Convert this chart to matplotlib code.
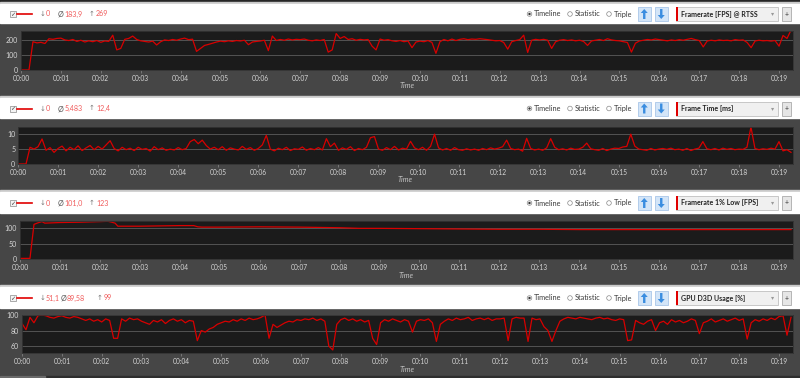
import matplotlib
matplotlib.use("Agg")
import matplotlib.pyplot as plt
import numpy as np
from matplotlib.patches import Rectangle, Circle, Polygon

plt.rcParams['font.family'] = ['Lato', 'DejaVu Sans']

# ---------------- data ----------------
step = 0.1  # minutes per sample
fps = [0, 0, 0, 190, 182, 186, 178, 210, 206, 212,
       214, 202, 198, 205, 192, 200, 188, 196, 190, 198,
       186, 195, 192, 234, 135, 145, 206, 212, 228, 205,
       196, 192, 188, 194, 168, 190, 202, 198, 205, 200,
       208, 214, 204, 207, 125, 145, 165, 172, 180, 188,
       194, 190, 196, 192, 198, 195, 200, 170, 188, 192,
       195, 200, 130, 228, 198, 205, 200, 208, 202, 206,
       204, 208, 200, 196, 202, 198, 205, 120, 135, 245,
       212, 225, 205, 210, 200, 206, 202, 205, 160, 135,
       208, 200, 204, 196, 192, 198, 190, 195, 150, 188,
       194, 190, 198, 185, 112, 190, 205, 196, 208, 198,
       206, 210, 204, 208, 206, 210, 207, 204, 200, 196,
       198, 185, 140, 190, 198, 204, 234, 118, 200, 206,
       202, 206, 200, 145, 190, 200, 204, 198, 202, 196,
       200, 192, 165, 195, 200, 205, 198, 210, 202, 198,
       196, 190, 185, 120, 180, 195, 200, 205, 202, 208,
       204, 200, 196, 202, 198, 204, 200, 206, 212, 204,
       198, 155, 195, 200, 196, 202, 198, 200, 196, 204,
       200, 202, 185, 150, 195, 200, 196, 198, 194, 198,
       160, 232, 212, 268]

frametime = [0, 0, 0, 5.6, 5.0, 5.8, 8.4, 4.6, 5.5, 3.9,
             5.2, 6.0, 4.4, 5.6, 4.8, 6.1, 4.5, 5.4, 6.2, 4.8,
             5.9, 5.0, 6.4, 7.8, 5.2, 4.4, 5.6, 4.8, 5.3, 4.5,
             5.6, 4.9, 5.2, 4.3, 5.8, 4.8, 5.4, 4.6, 5.0, 4.7,
             5.5, 4.8, 5.2, 7.5, 8.2, 6.8, 8.0, 6.2, 5.0, 5.6,
             4.8, 5.8, 4.6, 5.4, 5.0, 4.7, 5.9, 4.9, 5.5, 4.6,
             5.2, 6.4, 9.6, 5.0, 4.4, 5.3, 4.8, 5.6, 4.5, 5.1,
             4.9, 5.7, 4.6, 5.2, 4.8, 5.5, 4.7, 8.5, 5.8, 7.0,
             4.6, 5.4, 4.9, 5.8, 4.5, 5.2, 4.8, 5.6, 8.8, 9.2,
             5.0, 4.6, 5.5, 4.8, 5.9, 4.7, 5.3, 5.0, 7.6, 5.4,
             4.8, 5.6, 4.6, 5.9, 10.0, 5.4, 4.7, 5.2, 4.6, 5.5,
             4.8, 4.6, 5.1, 4.7, 5.0, 4.6, 5.2, 4.8, 5.4, 5.0,
             5.3, 5.8, 8.0, 5.2, 4.8, 5.0, 4.3, 8.6, 5.2, 4.7,
             5.0, 4.6, 5.4, 8.5, 5.6, 4.8, 5.1, 4.7, 5.3, 4.9,
             5.0, 5.6, 7.0, 5.1, 4.8, 4.6, 5.2, 4.5, 5.0, 5.3,
             5.2, 5.7, 5.9, 10.0, 6.0, 5.0, 4.8, 4.6, 5.2, 4.7,
             5.0, 5.2, 4.9, 5.3, 4.8, 5.0, 4.6, 5.2, 4.5, 5.0,
             5.3, 7.5, 5.1, 4.8, 5.2, 4.7, 5.3, 4.9, 5.2, 4.8,
             5.0, 4.9, 5.6, 12.4, 5.2, 4.8, 5.1, 4.9, 5.3, 5.0,
             7.5, 4.4, 4.8, 3.9]

low_t = [0.0, 0.25, 0.35, 0.45, 0.55, 0.62, 1.0, 1.5, 2.0, 2.2,
         2.3, 2.38, 2.45, 3.0, 3.5, 4.0, 4.35, 4.45, 4.55, 5.0,
         6.0, 7.0, 8.0, 8.5, 9.0, 10.0, 11.0, 12.0, 13.0, 14.0,
         15.0, 16.0, 17.0, 18.0, 19.0, 19.3]
low = [2, 2, 113, 118, 122, 117, 119, 120, 122, 123,
       120, 117, 107, 107, 108, 109, 109, 105, 104, 104,
       105, 104, 102, 100, 100, 99, 98, 97, 97, 96,
       96, 96, 96, 96, 96, 96]

gpu = [89, 81, 97, 90, 99, 100, 99, 97, 96, 98,
       99, 97, 96, 98, 97, 95, 93, 95, 92, 94,
       91, 95, 93, 70, 70, 95, 92, 96, 94, 95,
       92, 90, 88, 93, 91, 94, 89, 93, 95, 92,
       94, 90, 93, 92, 67, 80, 78, 82, 84, 88,
       90, 92, 91, 94, 92, 95, 93, 96, 94, 95,
       97, 100, 70, 88, 84, 87, 90, 92, 91, 94,
       93, 95, 94, 96, 93, 95, 92, 60, 55, 88,
       94, 96, 93, 95, 92, 94, 91, 93, 70, 62,
       90, 94, 92, 95, 93, 91, 94, 92, 78, 92,
       94, 93, 95, 90, 66, 88, 92, 95, 93, 96,
       94, 95, 97, 93, 95, 96, 94, 96, 93, 95,
       95, 96, 67, 95, 97, 96, 96, 66, 96, 94,
       95, 85, 80, 66, 80, 92, 95, 97, 96, 95,
       97, 96, 95, 94, 96, 97, 95, 96, 94, 93,
       95, 94, 67, 68, 93, 90, 88, 92, 94, 80,
       90, 92, 88, 94, 91, 93, 90, 92, 95, 93,
       76, 90, 92, 95, 91, 93, 95, 92, 94, 96,
       93, 95, 69, 90, 94, 92, 95, 93, 96, 94,
       98, 99, 74, 97]

xlabels = ['00:%02d' % m for m in range(20)]

panels = [
    dict(values=fps, t=None, ylim=(0, 262), yticks=[0, 100, 200],
         stats=('0', '183,9', '269'), title='Framerate [FPS] @ RTSS',
         hdr=(4, 23), plot=(21, 31, 70), sx=(43, 60.5, 92)),
    dict(values=frametime, t=None, ylim=(0, 12.4), yticks=[0, 5, 10],
         stats=('0', '5,483', '12,4'), title='Frame Time [ms]',
         hdr=(98, 118), plot=(18, 127, 164), sx=(43, 61, 92)),
    dict(values=low, t=low_t, ylim=(0, 124), yticks=[0, 50, 100],
         stats=('0', '101,0', '123'), title='Framerate 1% Low [FPS]',
         hdr=(192, 213), plot=(20, 221, 259), sx=(43, 61, 92)),
    dict(values=gpu, t=None, ylim=(51.1, 100), yticks=[60, 80, 100],
         stats=('51,1', '89,58', '99'), title='GPU D3D Usage [%]',
         hdr=(287, 308), plot=(22, 315, 353), sx=(43, 63.5, 100)),
]

W, H = 800, 378
RIGHT = 793
fig = plt.figure(figsize=(8, 3.78), dpi=100, facecolor='#464646')
bg = fig.add_axes([0, 0, 1, 1])
bg.set_xlim(0, W)
bg.set_ylim(H, 0)
bg.axis('off')
bg.set_zorder(0)

bg.add_patch(Rectangle((0, 0), W, 3, color='#262626'))
bg.add_patch(Rectangle((0, 375.5), W, 2.5, color='#2e2e2e'))
bg.add_patch(Rectangle((0, 375.5), 45, 2.5, color='#6a6a6a'))

TXT = '#3a3a3a'
SAL = '#f05a5a'

for p in panels:
    y0, y1 = p['hdr']
    yc = (y0 + y1) / 2 + 0.5
    bg.add_patch(Rectangle((0, y0 - 2), W, 2, color='#c9c9c9'))
    bg.add_patch(Rectangle((0, y0), W, y1 - y0, color='white'))
    # checkbox
    bg.add_patch(Rectangle((9.5, yc - 3), 6, 6, fc='#f4f4f4', ec='#8a8a8a', lw=0.5))
    bg.text(12.5, yc + 0.2, '✓', fontsize=4.5, color='#444', ha='center', va='center',
            family='DejaVu Sans')
    bg.plot([17, 32], [yc, yc], color='#e00000', lw=1.2)
    lo, avg, hi = p['stats']
    xa, xb, xc = p['sx']
    bg.text(xa, yc, '↓', fontsize=5, color='#777', ha='center', va='center', family='DejaVu Sans')
    bg.text(xa + 3, yc, lo, fontsize=5.1, color=SAL, ha='left', va='center')
    bg.text(xb, yc, 'Ø', fontsize=5.2, color='#555', ha='center', va='center')
    bg.text(xb + 3.5, yc, avg, fontsize=5.1, color=SAL, ha='left', va='center')
    bg.text(xc, yc, '↑', fontsize=5, color='#777', ha='center', va='center', family='DejaVu Sans')
    bg.text(xc + 4, yc, hi, fontsize=5.1, color=SAL, ha='left', va='center')
    # radio buttons
    for cx, label, sel in [(529.5, 'Timeline', True), (570, 'Statistic', False), (609, 'Triple', False)]:
        bg.add_patch(Circle((cx, yc), 2.3, fc='white', ec='#8a8a8a', lw=0.5))
        if sel:
            bg.add_patch(Circle((cx, yc), 1.2, fc='#333333', ec='none'))
        bg.text(cx + 4.5, yc, label, fontsize=5.3, color=TXT, ha='left', va='center')
    # up / down buttons
    for bx, up in [(638, True), (655, False)]:
        bg.add_patch(Rectangle((bx, yc - 7), 12.5, 14, fc='#d3e5f8', ec='#a9c6e8', lw=0.6))
        cx = bx + 6.25
        s = -1 if up else 1
        pts = [(cx, yc + s * 5), (cx + 3.5, yc + s * 1), (cx + 1.2, yc + s * 1),
               (cx + 1.2, yc - s * 5), (cx - 1.2, yc - s * 5), (cx - 1.2, yc + s * 1),
               (cx - 3.5, yc + s * 1)]
        bg.add_patch(Polygon(pts, closed=True, fc='#3a8de0', ec='none'))
    # dropdown
    bg.add_patch(Rectangle((676, yc - 7), 102, 14, fc='#f0f0f0', ec='#c0c0c0', lw=0.6))
    bg.add_patch(Rectangle((676, yc - 7), 2, 14, fc='#e00000', ec='none'))
    bg.text(681, yc, p['title'], fontsize=5, color='#222', ha='left', va='center',
            fontweight='bold')
    bg.text(773, yc, '▾', fontsize=4.5, color='#999', ha='center', va='center',
            family='DejaVu Sans')
    bg.add_patch(Rectangle((782, yc - 7), 9, 14, fc='#e6e6e6', ec='#ababab', lw=0.6))
    bg.text(786.5, yc, '+', fontsize=5, color='#333', ha='center', va='center')

    # plot area
    L, T, B = p['plot']
    ax = fig.add_axes([L / W, 1 - B / H, (RIGHT - L) / W, (B - T) / H])
    ax.set_zorder(2)
    ax.set_facecolor('#1b1b1b')
    vals = p['values']
    t = p['t'] if p['t'] is not None else np.arange(len(vals)) * step
    ax.plot(t, vals, color='#d80000', lw=0.9)
    ax.set_xlim(0, 19.35)
    ax.set_ylim(*p['ylim'])
    ax.set_yticks(p['yticks'])
    ax.set_xticks(range(20))
    ax.set_xticklabels(xlabels)
    ax.grid(axis='y', color='#5c5c5c', lw=0.6)
    ax.set_axisbelow(True)
    ax.tick_params(axis='x', colors='#8a8a8a', labelcolor='#d6d6d6', labelsize=4.8,
                   length=2, width=0.5, pad=1.5)
    ax.tick_params(axis='y', colors='#464646', labelcolor='#d6d6d6', labelsize=5,
                   length=0, pad=2)
    for s in ax.spines.values():
        s.set_color('#333333')
        s.set_linewidth(0.6)
    bg.text((L + RIGHT) / 2, B + 16, 'Time', fontsize=5.3, color='#c4c4c4',
            style='italic', ha='center', va='center')

fig.savefig('out.png', dpi=100, facecolor=fig.get_facecolor())
